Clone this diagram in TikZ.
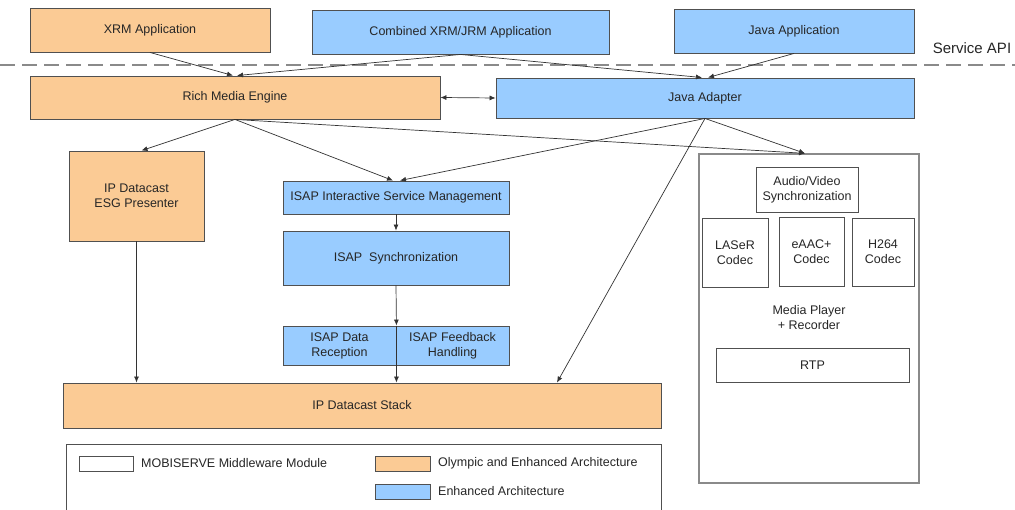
\documentclass[tikz,border=0pt]{standalone}
\usepackage{fontspec}
\setmainfont{Liberation Sans}
\usetikzlibrary{arrows.meta,calc}
\definecolor{olympic}{HTML}{FBCB95}
\definecolor{enhanced}{HTML}{99CCFF}
\definecolor{edgegray}{HTML}{505050}
\definecolor{framegray}{HTML}{8A8A8A}
\definecolor{labeltext}{HTML}{262626}

\begin{document}
\begin{tikzpicture}[x=1pt,y=-1pt,
  every node/.style={font=\fontsize{12.5}{15}\selectfont, text=labeltext},
  sz/.style 2 args={minimum width=#1pt, minimum height=#2pt},
  box/.style={draw=edgegray, line width=0.9pt, inner sep=0pt, align=center},
  orangebox/.style={box, fill=olympic},
  bluebox/.style={box, fill=enhanced},
  whitebox/.style={box, fill=white},
  framebox/.style={draw=framegray, line width=1.3pt, inner sep=0pt},
  conn/.style={draw=black!80, line width=0.7pt, -{Latex[length=6pt,width=5pt]}},
  biconn/.style={draw=black!80, line width=0.7pt, {Latex[length=6pt,width=5pt]}-{Latex[length=6pt,width=5pt]}},
  plain/.style={inner sep=0pt, align=center},
]
\useasboundingbox (0,0) rectangle (1015,510);
\fill[white] (0,0) rectangle (1015,510);

% application layer
\node[orangebox, sz={240}{44}] (xrm)  at (150,30)   {XRM Application};
\node[bluebox,   sz={297}{44}] (comb) at (460.5,32) {Combined XRM/JRM Application};
\node[bluebox,   sz={240}{44}] (japp) at (794,31)   {Java Application};

% service API boundary
\coordinate (apiL) at (0,65);
\coordinate (apiR) at (1015,65);
\draw[framegray, line width=1.4pt, dash pattern=on 15pt off 7pt] (apiL) -- (apiR);
\node[plain, font=\fontsize{15}{18}\selectfont] (api) at (972,48) {Service API};

% engines
\node[orangebox, sz={410}{43}] (rme) at (235,97.5) {Rich Media Engine};
\node[bluebox,   sz={418}{40}] (ja)  at (705,98)   {Java Adapter};

% middle modules
\node[orangebox, sz={135}{90}] (esg)  at (136.5,196) {IP Datacast\\ESG Presenter};
\node[bluebox,   sz={226}{33}] (ism)  at (396,197.5) {ISAP Interactive Service Management};
\node[bluebox,   sz={226}{54}] (sync) at (396,258)   {ISAP\ \ Synchronization};
\node[bluebox,   sz={113}{39}] (dr)   at (339.5,345.5) {ISAP Data\\Reception};
\node[bluebox,   sz={113}{39}] (fh)   at (452.5,345.5) {ISAP Feedback\\Handling};

% stack
\node[orangebox, sz={598}{45}] (stack) at (362,405.5) {IP Datacast Stack};

% media player
\node[framebox, fill=white, sz={220}{329}] (mp) at (809,318.5) {};
\node[whitebox, sz={102}{45}] (avs)   at (807,189.5) {Audio/Video\\Synchronization};
\node[whitebox, sz={66}{69}]  (laser) at (735,252.5) {LASeR\\Codec};
\node[whitebox, sz={65}{69}]  (eaac)  at (811.5,251.5) {eAAC+\\Codec};
\node[whitebox, sz={62}{68}]  (h264)  at (883,252) {H264\\Codec};
\node[plain] (mpr) at (809,318) {Media Player\\+ Recorder};
\node[whitebox, sz={193}{34}] (rtp)   at (812.5,365) {RTP};

% legend
\node[box, fill=white, sz={595}{70}] (legend) at (363.5,479) {};
\node[whitebox,  sz={54}{15}] (swW) at (106,463.5) {};
\node[orangebox, sz={55}{15}] (swO) at (402.5,463.5) {};
\node[bluebox,   sz={55}{15}] (swB) at (402.5,491.5) {};
\node[plain, anchor=west] (lgW) at (141,463.5) {MOBISERVE Middleware Module};
\node[plain, anchor=west] (lgO) at (438,463.5) {Olympic and Enhanced Architecture};
\node[plain, anchor=west] (lgB) at (438,491.5) {Enhanced Architecture};

% connectors: applications to engines
\draw[conn] (xrm.south)  -- ([xshift=-2pt]rme.north);
\draw[conn] (comb.south) -- ([xshift=2pt]rme.north);
\draw[conn] (comb.south) -- ([xshift=-3pt]ja.north);
\draw[conn] (japp.south) -- ([xshift=3pt]ja.north);
\draw[biconn] (rme.east) -- (ja.west);

% connectors: engines to modules
\draw[conn] (rme.south) -- ([xshift=5pt]esg.north);
\draw[conn] (rme.south) -- ([xshift=-3pt]ism.north);
\draw[conn] (rme.south) -- ([xshift=-4pt]mp.north);
\draw[conn] (ja.south)  -- ([xshift=4pt]ism.north);
\draw[conn] (ja.south)  -- ([xshift=-4pt]mp.north);
\draw[conn] (ja.south)  -- ([xshift=195pt]stack.north);

% connectors: ISAP chain and stack
\draw[conn] (ism.south)  -- (sync.north);
\draw[conn] (sync.south) -- (dr.north east);
\draw[conn] (dr.north east) -- (dr.north east |- stack.north);
\draw[conn] (esg.south)  -- (esg.south |- stack.north);
\end{tikzpicture}
\end{document}
